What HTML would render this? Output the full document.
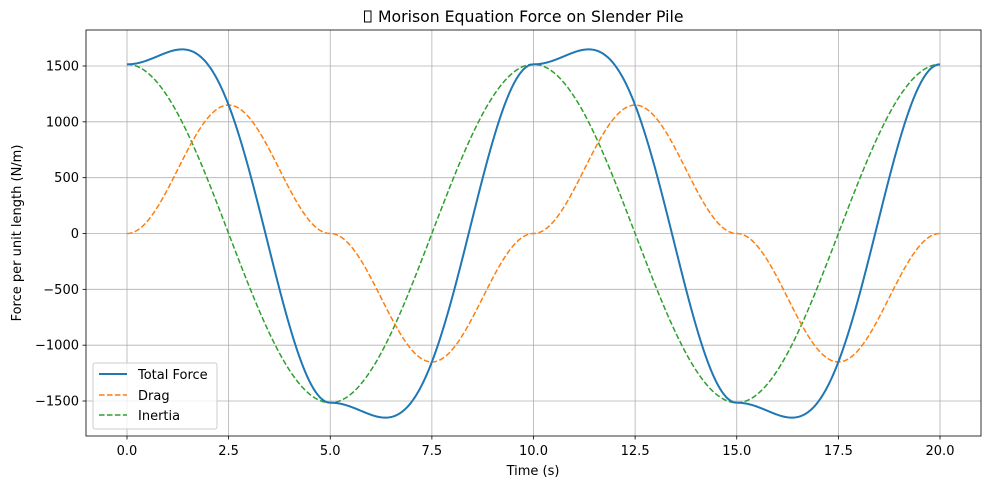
<!DOCTYPE html>
<html><head><meta charset="utf-8"><style>
body{margin:0;background:#fff}
svg{display:block;font-family:"DejaVu Sans","Liberation Sans",sans-serif}
</style></head><body>
<svg id="s" width="990" height="490" viewBox="0 0 990 490" xmlns="http://www.w3.org/2000/svg">
<rect width="990" height="490" fill="#fff"/>
<g id="grid" stroke="#b0b0b0" stroke-width="0.8"></g>
<g id="ticks" font-size="13" fill="#000"></g>
<path id="inertia" fill="none" stroke="#2ca02c" stroke-width="1.5" stroke-dasharray="5.55,2.4"/>
<path id="drag" fill="none" stroke="#ff7f0e" stroke-width="1.5" stroke-dasharray="5.55,2.4"/>
<path id="total" fill="none" stroke="#1f77b4" stroke-width="2"/>
<rect x="86" y="30" width="895" height="406" fill="none" stroke="#000" stroke-width="0.8"/>
<text x="533" y="475" font-size="13" text-anchor="middle">Time (s)</text>
<text transform="translate(21,233) rotate(-90)" font-size="13" text-anchor="middle">Force per unit length (N/m)</text>
<rect x="364.5" y="11" width="6.5" height="11" fill="none" stroke="#000" stroke-width="1"/>
<text x="378" y="22" font-size="15.7">Morison Equation Force on Slender Pile</text>
<g>
<rect x="93" y="363" width="124" height="66" rx="2" fill="#fff" fill-opacity="0.8" stroke="#ccc"/>
<line x1="99" y1="374" x2="127" y2="374" stroke="#1f77b4" stroke-width="2"/>
<text x="138" y="379" font-size="13">Total Force</text>
<line x1="99" y1="395" x2="127" y2="395" stroke="#ff7f0e" stroke-width="1.5" stroke-dasharray="5.55,2.4"/>
<text x="138" y="400" font-size="13">Drag</text>
<line x1="99" y1="415" x2="127" y2="415" stroke="#2ca02c" stroke-width="1.5" stroke-dasharray="5.55,2.4"/>
<text x="138" y="420" font-size="13">Inertia</text>
</g>
</svg>
<script>
var X=function(t){return 127+t*40.65},Y=function(v){return 233.5-v*0.11167};
var g=document.getElementById('grid'),tk=document.getElementById('ticks'),ns='http://www.w3.org/2000/svg';
function el(p,n,a,txt){var e=document.createElementNS(ns,n);for(var k in a)e.setAttribute(k,a[k]);if(txt!=null)e.textContent=txt;p.appendChild(e);}
for(var i=0;i<=8;i++){var t=i*2.5,x=X(t);el(g,'line',{x1:x,y1:30,x2:x,y2:436});el(tk,'line',{x1:x,y1:436,x2:x,y2:439.5,stroke:'#000','stroke-width':0.8});el(tk,'text',{x:x,y:455,'text-anchor':'middle'},t.toFixed(1));}
for(var v=-1500;v<=1500;v+=500){var y=Y(v);el(g,'line',{x1:86,y1:y,x2:981,y2:y});el(tk,'line',{x1:82.5,y1:y,x2:86,y2:y,stroke:'#000','stroke-width':0.8});el(tk,'text',{x:79,y:y+4.5,'text-anchor':'end'},(v<0?'\u2212'+(-v):v));}
var w=2*Math.PI/10,a='',b='',c='';
for(var i=0;i<=1000;i++){var t=i*0.02,s=Math.sin(w*t),co=Math.cos(w*t),d=1150*s*Math.abs(s),n=1515*co,p=(i?'L':'M');
a+=p+X(t).toFixed(2)+' '+Y(d+n).toFixed(2);b+=p+X(t).toFixed(2)+' '+Y(d).toFixed(2);c+=p+X(t).toFixed(2)+' '+Y(n).toFixed(2);}
document.getElementById('total').setAttribute('d',a);document.getElementById('drag').setAttribute('d',b);document.getElementById('inertia').setAttribute('d',c);
</script>
</body></html>
